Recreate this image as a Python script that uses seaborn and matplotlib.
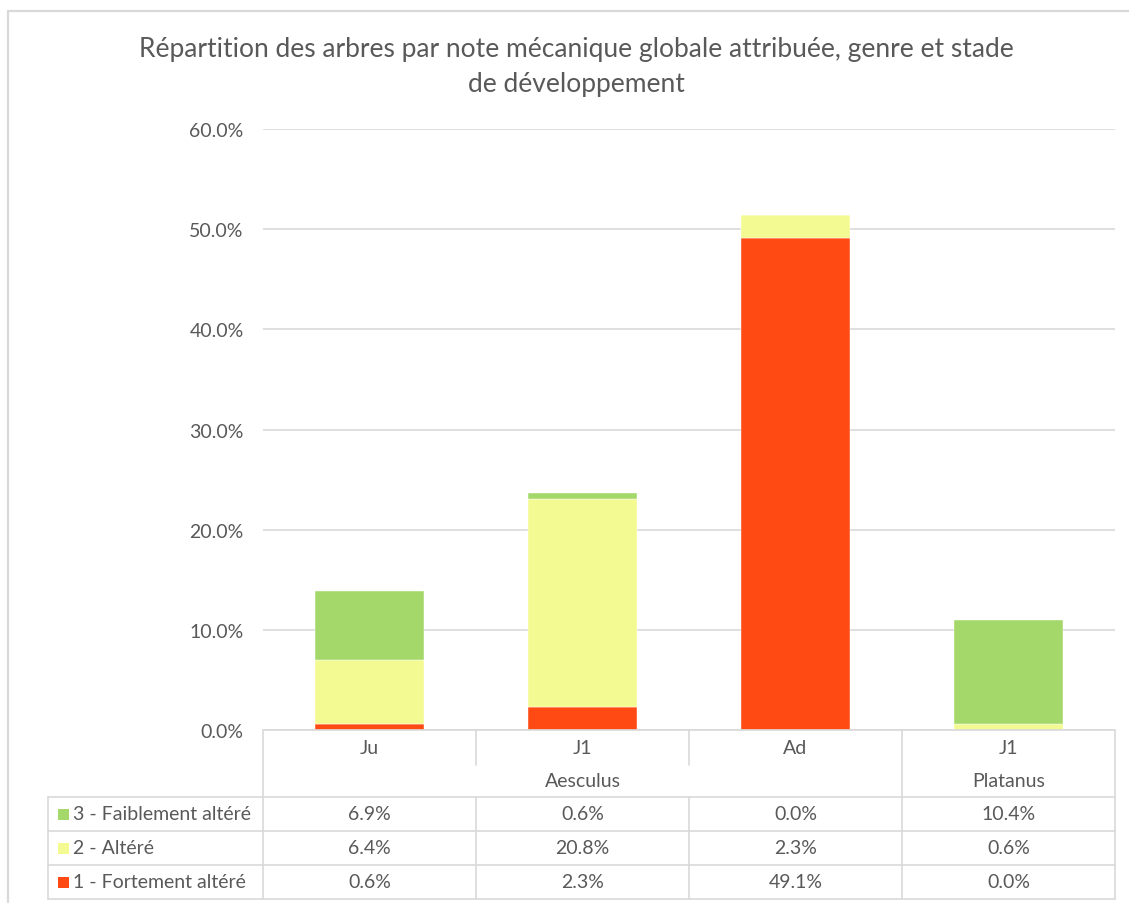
import matplotlib
matplotlib.use("Agg")
import matplotlib.pyplot as plt
from matplotlib.lines import Line2D
from matplotlib.patches import Rectangle
from matplotlib.ticker import FuncFormatter, MultipleLocator
import seaborn as sns
import pandas as pd

# Data: share of trees (%) by mechanical score, genus and development stage
genera = ["Aesculus", "Aesculus", "Aesculus", "Platanus"]
stages = ["Ju", "J1", "Ad", "J1"]
fort_altere = [0.6, 2.3, 49.1, 0.0]     # 1 - Fortement altéré
altere = [6.4, 20.8, 2.3, 0.6]          # 2 - Altéré
faible_altere = [6.9, 0.6, 0.0, 10.4]   # 3 - Faiblement altéré

series_names = ["3 - Faiblement altéré", "2 - Altéré", "1 - Fortement altéré"]
colors = {"1 - Fortement altéré": "#FF4A14",
          "2 - Altéré": "#F3FA91",
          "3 - Faiblement altéré": "#A5D86A"}

keys = [f"{g}-{s}" for g, s in zip(genera, stages)]
df = pd.DataFrame({"cat": keys, "genre": genera, "stade": stages,
                   "1 - Fortement altéré": fort_altere,
                   "2 - Altéré": altere,
                   "3 - Faiblement altéré": faible_altere})

sns.set_theme(style="white")
plt.rcParams["font.family"] = ["Lato", "DejaVu Sans"]
TXT = "#595959"
GRID = "#D9D9D9"

W, H = 1129, 904
fig = plt.figure(figsize=(W / 100, H / 100), dpi=100)

def fx(px):
    return px / W

def fy(py):
    return 1 - py / H

# plot area in pixel coordinates
L, R, T, B = 263, 1115, 130, 731
ax = fig.add_axes([fx(L), fy(B), fx(R) - fx(L), fy(T) - fy(B)])

bottom = [0.0] * len(keys)
for name in ["1 - Fortement altéré", "2 - Altéré", "3 - Faiblement altéré"]:
    sns.barplot(data=df, x="cat", y=name, order=keys, color=colors[name],
                bottom=bottom, width=0.51, ax=ax, saturation=1,
                edgecolor="white", linewidth=0.3)
    bottom = [b + v for b, v in zip(bottom, df[name])]

ax.set_xlim(-0.5, len(keys) - 0.5)
ax.set_ylim(0, 60)
ax.yaxis.set_major_locator(MultipleLocator(10))
ax.yaxis.set_major_formatter(FuncFormatter(lambda v, p: f"{v:.1f}%"))
ax.set_xticks([])
ax.set_xlabel("")
ax.set_ylabel("")
ax.tick_params(axis="y", length=0, pad=14, labelsize=14, labelcolor=TXT)
ax.grid(axis="y", color=GRID, linewidth=1.2)
ax.set_axisbelow(True)
for s in ax.spines.values():
    s.set_visible(False)

fig.suptitle("Répartition des arbres par note mécanique globale attribuée, genre et stade\nde développement",
             x=fx(576), y=fy(37), va="top", fontsize=19, color=TXT, linespacing=1.5)

# outer chart frame
fig.add_artist(Line2D([fx(8), 1], [fy(12), fy(12)], transform=fig.transFigure, color=GRID, lw=1.6))
fig.add_artist(Line2D([fx(8), fx(8)], [fy(12), 0], transform=fig.transFigure, color=GRID, lw=1.6))

def hline(x0, x1, y):
    fig.add_artist(Line2D([fx(x0), fx(x1)], [fy(y), fy(y)], transform=fig.transFigure, color=GRID, lw=1.2))

def vline(x, y0, y1):
    fig.add_artist(Line2D([fx(x), fx(x)], [fy(y0), fy(y1)], transform=fig.transFigure, color=GRID, lw=1.2))

# data table below the plot
row_cat, row_gen = (731, 766), (766, 798)
data_rows = [(798, 832), (832, 866), (866, 900)]
TBL_L = 48
colw = (R - L) / len(keys)
col_edges = [L + i * colw for i in range(len(keys) + 1)]

hline(L, R, 731)
for y in [798, 832, 866, 900]:
    hline(TBL_L, R, y)
vline(TBL_L, 798, 900)
vline(L, 731, 900)
vline(R, 731, 900)
for i in range(1, len(keys)):
    if genera[i] != genera[i - 1]:
        vline(col_edges[i], 731, 900)
    else:
        vline(col_edges[i], 731, 766)
        vline(col_edges[i], 798, 900)

fs = 14
for i, s in enumerate(stages):
    cx = (col_edges[i] + col_edges[i + 1]) / 2
    fig.text(fx(cx), fy(sum(row_cat) / 2), s, ha="center", va="center", fontsize=fs, color=TXT)

# genus labels centred on their span of columns
start = 0
for i in range(1, len(keys) + 1):
    if i == len(keys) or genera[i] != genera[start]:
        cx = (col_edges[start] + col_edges[i]) / 2
        fig.text(fx(cx), fy(sum(row_gen) / 2), genera[start], ha="center", va="center",
                 fontsize=fs, color=TXT)
        start = i

for (y0, y1), name in zip(data_rows, series_names):
    cy = (y0 + y1) / 2
    fig.add_artist(Rectangle((fx(58), fy(cy + 5.5)), fx(11), fy(0) - fy(11),
                             transform=fig.transFigure, facecolor=colors[name], edgecolor="none"))
    fig.text(fx(73), fy(cy), name, ha="left", va="center", fontsize=fs, color=TXT)
    for i, v in enumerate(df[name]):
        cx = (col_edges[i] + col_edges[i + 1]) / 2
        fig.text(fx(cx), fy(cy), f"{v:.1f}%", ha="center", va="center", fontsize=fs, color=TXT)

fig.savefig("out.png", dpi=100)
